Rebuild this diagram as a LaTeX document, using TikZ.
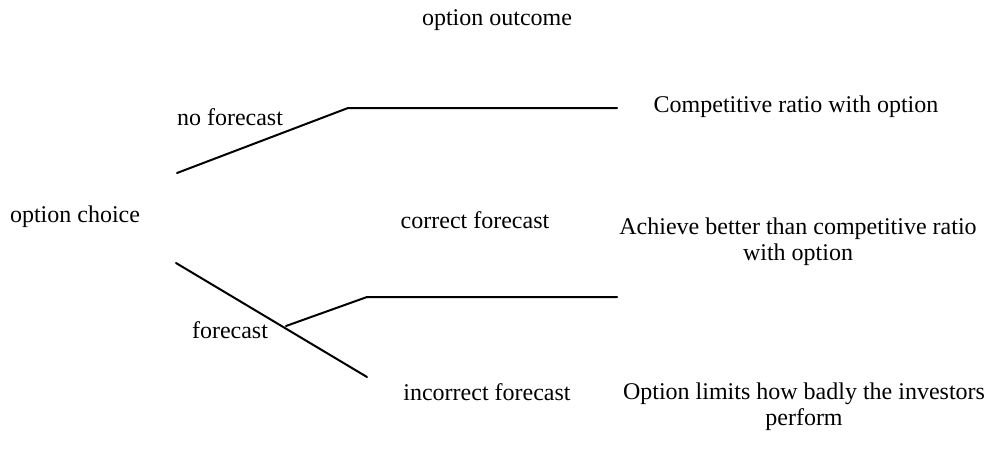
\documentclass[tikz,border=0pt]{standalone}
\usepackage{fontspec}
\setmainfont{Liberation Serif}
\usepackage{tikz}
\usetikzlibrary{calc}
\tikzstyle{every node}=[font=\fontsize{18}{19}\selectfont, inner sep=0pt]
\tikzstyle{branch}=[line width=1.5pt, line cap=round]

\begin{document}
\begin{tikzpicture}[x=0.75pt, y=-0.75pt]
    \useasboundingbox (0, 0) rectangle (1005, 464);

    \coordinate (R1) at (177, 173);
    \coordinate (N) at (348, 108);
    \coordinate (NE) at (617, 108);
    \coordinate (R2) at (176, 263);
    \coordinate (F) at (367, 377);
    \coordinate (S) at (286, 326);
    \coordinate (C) at (367, 297);
    \coordinate (CE) at (617, 297);

    \draw [branch] (R1) -- (N) -- (NE);
    \draw [branch] (R2) -- (F);
    \draw [branch] (S) -- (C) -- (CE);

    \node [anchor=base] (title) at (497, 26) {option outcome};
    \node [anchor=base] (choice) at (75, 222) {option choice};
    \node [anchor=base] (nofc) at (230, 125) {no forecast};
    \node [anchor=base] (fc) at (230, 338) {forecast};
    \node [anchor=base] (corr) at (475, 228) {correct forecast};
    \node [anchor=base] (incorr) at (487, 400) {incorrect forecast};

    \node [anchor=base] (outA) at (796, 112) {Competitive ratio with option};
    % base of a two-line node sits on its last line
    \node [anchor=base, align=center] (outB) at (798, 260) {Achieve better than competitive ratio\\with option};
    \node [anchor=base, align=center] (outC) at (804, 425) {Option limits how badly the investors\\perform};
\end{tikzpicture}
\end{document}
